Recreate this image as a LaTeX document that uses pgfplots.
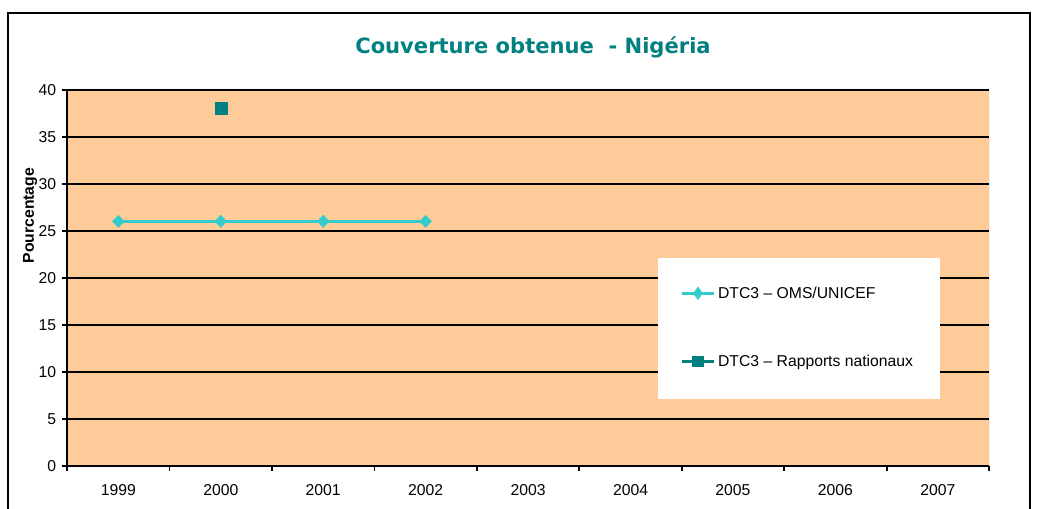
\documentclass[border=0pt]{standalone}
\usepackage{pgfplots}
\pgfplotsset{compat=1.18}
\usepackage{fontspec}
\setmainfont{Liberation Sans}
\newfontfamily\titlefont{DejaVu Sans}
\definecolor{bgorange}{HTML}{FFCC99}
\definecolor{cyanline}{HTML}{33CCCC}
\definecolor{tealsq}{HTML}{008080}
\begin{document}
\begin{tikzpicture}[x=0.75pt,y=0.75pt]
\path[use as bounding box] (0,0) rectangle (1038,508);
\draw[line width=2.2pt] (8,-5) -- (8,495) -- (1030,495) -- (1030,-5);
\node[font=\titlefont\bfseries\fontsize{15.8}{18}\selectfont, text=tealsq] at (533,461) {Couverture obtenue\ \ - Nigéria};
\begin{axis}[
  at={(65.5,45)}, anchor=south west, scale only axis,
  width=691.5pt, height=282pt,
  xmin=-0.5, xmax=8.5, ymin=0, ymax=40,
  ytick={0,5,...,40},
  xtick={0,...,8},
  xticklabels={1999,2000,2001,2002,2003,2004,2005,2006,2007},
  minor xtick={-0.5,0.5,...,8.5},
  major x tick style={draw=none},
  tick align=outside,
  major tick length=3.75pt, minor tick length=3.75pt,
  every tick/.style={black, line width=1.4pt},
  ymajorgrids, grid style={black, line width=1.7pt},
  axis x line*=bottom, axis y line*=left,
  axis line style={-, line width=1.8pt, black},
  axis background/.style={fill=bgorange},
  ticklabel style={font=\fontsize{11.8}{13}\selectfont},
  yticklabel style={xshift=-1pt},
  xticklabel style={yshift=-7pt},
  /pgf/number format/assume math mode=true,
  ylabel={Pourcentage},
  every axis y label/.style={at={(axis description cs:-0.04,0.665)}, rotate=90, anchor=center, font=\bfseries\fontsize{11.8}{13}\selectfont},
  legend style={at={(rel axis cs:0.665,0.368)}, anchor=west, draw=none, fill=none, inner sep=0pt, row sep=37pt, font=\fontsize{11.8}{13}\selectfont},
  legend cell align=left,
  legend image code/.code={\draw[mark repeat=2,mark phase=2, mark options={scale=0.7}] plot coordinates {(0pt,0pt)(12pt,0pt)(24pt,0pt)};},
]
\draw[gray, line width=0.6pt] (rel axis cs:1,0) -- (rel axis cs:1,1);
\fill[white] (rel axis cs:0.641,0.553) rectangle (rel axis cs:0.947,0.178);
\addplot[cyanline, line width=2.2pt, mark=diamond*, mark size=4.5pt, mark options={solid, fill=cyanline, draw=cyanline, line width=0.4pt, xscale=1.3}] coordinates {(0,26)(1,26)(2,26)(3,26)};
\addlegendentry{DTC3 – OMS/UNICEF}
\addplot[tealsq, line width=2.2pt, mark=square*, mark size=4.5pt, mark options={solid, fill=tealsq, draw=tealsq, line width=0.4pt}] coordinates {(1,38)};
\addlegendentry{DTC3 – Rapports nationaux}
\end{axis}
\end{tikzpicture}
\end{document}
